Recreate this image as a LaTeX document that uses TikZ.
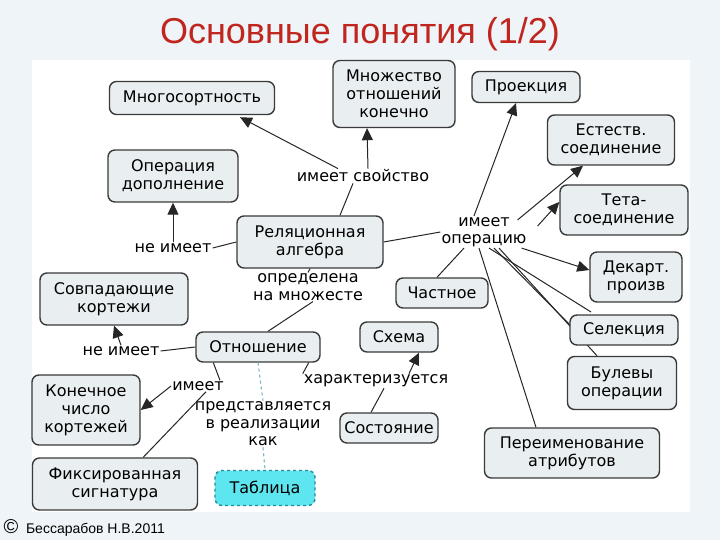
\documentclass[tikz,border=0pt]{standalone}
\usepackage{fontspec}
\setmainfont{DejaVu Sans}
\newfontfamily\titlefont{Liberation Sans}
\usetikzlibrary{arrows.meta,calc}
\definecolor{slidebg}{HTML}{EEF4F7}
\definecolor{boxfill}{HTML}{E9EEF1}
\definecolor{boxline}{HTML}{3A3A3A}
\definecolor{titlered}{HTML}{C0261E}
\definecolor{tabfill}{HTML}{5EE6F0}
\definecolor{tabline}{HTML}{1E8C9A}
\begin{document}
\begin{tikzpicture}[x=1pt,y=-1pt,
  cbox/.style={draw=boxline,line width=1.4pt,fill=boxfill,rounded corners=7pt,align=center,
    font=\fontsize{16}{18}\selectfont,inner sep=3pt},
  lbl/.style={align=center,font=\fontsize{16}{17.5}\selectfont,inner sep=1pt,fill=white},
  ln/.style={draw=black!85,line width=1pt},
  ar/.style={ln,-{Triangle[length=12pt,width=11pt]}},
  dl/.style={draw=tabline!60,line width=1.1pt,dashed}]
\useasboundingbox (0,0) rectangle (720,540);
\fill[slidebg] (0,0) rectangle (720,540);
\fill[white] (32,60) rectangle (690,512);
\node[text=titlered,font=\titlefont\fontsize{36}{38}\selectfont] (title) at (360,34) {Основные понятия (1/2)};
\node[font=\titlefont\fontsize{14}{16}\selectfont,anchor=west] (foot) at (0,528) {\fontsize{20}{20}\selectfont©\fontsize{14}{16}\selectfont\ \ Бессарабов Н.В.2011};

\node[cbox,minimum width=165,minimum height=33] (mnogo) at (192,98) {Многосортность};
\node[cbox,minimum width=122,minimum height=67] (mnozh) at (394,94) {Множество\\отношений\\конечно};
\node[cbox,minimum width=108,minimum height=31] (proj) at (526,87) {Проекция};
\node[cbox,minimum width=127,minimum height=50] (nat) at (611,140) {Естеств.\\соединение};
\node[cbox,minimum width=128,minimum height=50] (theta) at (624,210) {Тета-\\соединение};
\node[cbox,minimum width=92,minimum height=50] (dek) at (636,277) {Декарт.\\произв};
\node[cbox,minimum width=109,minimum height=53] (bool) at (622,383) {Булевы\\операции};
\node[cbox,minimum width=175,minimum height=50] (ren) at (572,453) {Переименование\\атрибутов};
\node[cbox,minimum width=92,minimum height=30] (quot) at (442,293) {Частное};
\node[cbox,minimum width=130,minimum height=52] (opdop) at (173,176) {Операция\\дополнение};
\node[cbox,minimum width=146,minimum height=52] (ra) at (310,242) {Реляционная\\алгебра};
\node[cbox,minimum width=148,minimum height=52] (sovp) at (114,299) {Совпадающие\\кортежи};
\node[cbox,minimum width=124,minimum height=30] (otn) at (258,347) {Отношение};
\node[cbox,minimum width=78,minimum height=30] (schema) at (399,337) {Схема};
\node[cbox,minimum width=108,minimum height=70] (kon) at (86,410) {Конечное\\число\\кортежей};
\node[cbox,minimum width=165,minimum height=52] (fix) at (115,484) {Фиксированная\\сигнатура};
\node[cbox,minimum width=98,minimum height=30] (sost) at (389,428) {Состояние};
\node[cbox,draw=tabline,fill=tabfill,dashed,minimum width=100,minimum height=35] (tab) at (265,488) {Таблица};

\node[lbl] (l1) at (363,176) {имеет свойство};
\node[lbl] (l2) at (173,248) {не имеет};
\node[lbl] (l3) at (484,232) {имеет\\операцию};
\node[lbl] (l4) at (308,287) {определена\\на множесте};
\node[lbl] (l5) at (121,351) {не имеет};
\node[lbl] (l6) at (198,386) {имеет};
\node[lbl] (l7) at (376,381) {характеризуется};
\node[lbl] (l8) at (263,424) {представляется\\в реализации\\как};

\draw[ln] ($(ra.north)+(30,0)$) -- ($(l1.south)+(-10,0)$);
\draw[ar] ($(l1.north)+(-25,0)$) -- ($(mnogo.south)+(48,2)$);
\draw[ar] ($(l1.north)+(5,0)$) -- ($(mnozh.south)+(-27,0)$);
\draw[ln] (ra.west) -- (l2.east);
\draw[ar] (l2.north) -- (opdop.south);
\draw[ln] (ra.east) -- (l3.west);
\draw[ar] ($(l3.north)+(-10,0)$) -- ($(proj.south)+(-10,0)$);
\draw[ar] ($(l3.north east)+(-10,4)$) -- ($(nat.south)+(-28,0)$);
\draw[ar] ($(l3.east)+(10,-6)$) -- ($(theta.west)+(0,-8)$);
\draw[ar] ($(l3.south east)+(-6,0)$) -- ($(dek.west)+(0,-7)$);
\draw[ln] ($(l3.south)+(-20,0)$) -- ($(quot.north)+(-5,0)$);
\draw[ln] ($(l3.south)+(5,0)$) -- (591,312);
\draw[ln] ($(l3.south)+(10,0)$) -- (572,327);
\draw[ln] ($(l3.south)+(15,0)$) -- ($(bool.north)+(-25,0)$);
\draw[ln] ($(l3.south)+(-5,0)$) -- ($(ren.north)+(-36,0)$);
\draw[ln] (ra.south) -- (l4.north);
\draw[ln] ($(l4.south)+(5,0)$) -- ($(otn.north)+(10,0)$);
\draw[ln] (otn.west) -- (l5.east);
\draw[ar] (l5.north) -- (sovp.south);
\draw[ln] ($(otn.south west)+(18,0)$) -- ($(l6.north east)+(-5,0)$);
\draw[ar] (l6.west) -- (kon.east);
\draw[ln] ($(l6.south)+(8,0)$) -- ($(fix.north east)+(-55,0)$);
\draw[ln] ($(otn.south east)+(-12,0)$) -- ($(l7.north west)+(0,0)$);
\draw[ar] ($(l7.north)+(33,0)$) -- ($(schema.south)+(20,0)$);
\draw[ln] ($(sost.north)+(-18,0)$) -- ($(l7.south)+(8,0)$);
\draw[dl] (otn.south) -- (l8.north);
\draw[dl] (l8.south) -- (tab.north);
\node[cbox,minimum width=108,minimum height=30] (sel) at (624,330) {Селекция};
\end{tikzpicture}
\end{document}
